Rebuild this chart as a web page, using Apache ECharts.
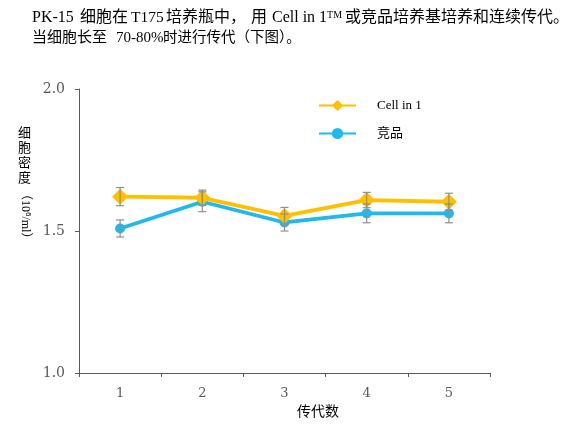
<!DOCTYPE html>
<html>
<head>
<meta charset="utf-8">
<script src="https://cdn.jsdelivr.net/npm/echarts@6/dist/echarts.min.js"></script>
<style>
html,body{margin:0;padding:0;background:#fff;}
#c{width:571px;height:431px;}
</style>
</head>
<body>
<div id="c"></div>
<script>
var categories = ['1', '2', '3', '4', '5'];
var cellIn1 = [1.621, 1.617, 1.553, 1.609, 1.603];
var cellIn1Err = [0.032, 0.027, 0.030, 0.027, 0.030];
var competitor = [1.509, 1.603, 1.530, 1.562, 1.562];
var competitorErr = [0.030, 0.035, 0.030, 0.033, 0.033];
var yTicks = [1.0, 1.5, 2.0];

var chart = echarts.init(document.getElementById('c'));

function errData(vals, errs) {
  return vals.map(function (v, i) { return [i, v - errs[i], v + errs[i]]; });
}
function renderErr(params, api) {
  var x = api.value(0);
  var lo = api.coord([x, api.value(1)]);
  var hi = api.coord([x, api.value(2)]);
  var cap = 4;
  var st = { stroke: '#8f8f8f', lineWidth: 1.2 };
  return {
    type: 'group',
    children: [
      { type: 'line', shape: { x1: lo[0], y1: lo[1], x2: hi[0], y2: hi[1] }, style: st },
      { type: 'line', shape: { x1: lo[0] - cap, y1: lo[1], x2: lo[0] + cap, y2: lo[1] }, style: st },
      { type: 'line', shape: { x1: hi[0] - cap, y1: hi[1], x2: hi[0] + cap, y2: hi[1] }, style: st }
    ]
  };
}

var serif = '"Liberation Serif", "Noto Sans CJK SC", serif';
var axisColor = '#5f5a55';

function seg(text, x, y, size, rich) {
  var s = { text: text, font: size + 'px ' + serif, fill: '#000' };
  if (rich) s.rich = rich;
  return { type: 'text', left: x, top: y, style: s };
}
var supRich = { sup: { fontSize: 10, verticalAlign: 'top', padding: [0, 0, 6, 0], fontFamily: serif } };

chart.setOption({
  animation: false,
  grid: { left: 79, right: 81, top: 89, bottom: 58 },
  legend: {
    orient: 'vertical',
    left: 313,
    top: 94,
    itemWidth: 37,
    itemHeight: 14,
    itemGap: 15,
    data: ['Cell in 1', '竞品'],
    textStyle: { fontFamily: serif, fontSize: 13, color: '#000', padding: [0, 0, 0, 16] }
  },
  xAxis: {
    type: 'category',
    data: categories,
    boundaryGap: true,
    axisLine: { lineStyle: { color: axisColor, width: 1 } },
    axisTick: { show: true, length: 4, alignWithLabel: false, lineStyle: { color: axisColor } },
    axisLabel: { color: '#595959', fontFamily: '"DejaVu Serif", serif', fontSize: 13, margin: 14 },
    splitLine: { show: false }
  },
  yAxis: {
    type: 'value',
    min: yTicks[0],
    max: yTicks[yTicks.length - 1],
    interval: 0.5,
    axisLine: { show: true, lineStyle: { color: axisColor, width: 1 } },
    axisTick: { show: true, length: 4, lineStyle: { color: axisColor } },
    axisLabel: {
      color: '#595959', fontFamily: '"DejaVu Serif", serif', fontSize: 14, margin: 14,
      formatter: function (v) { return v.toFixed(1); }
    },
    splitLine: { show: false }
  },
  series: [
    {
      name: 'Cell in 1', type: 'line', data: cellIn1,
      symbol: 'diamond', symbolSize: 16,
      lineStyle: { color: '#FFC000', width: 3.8 },
      itemStyle: { color: '#FFC000' },
      z: 3
    },
    {
      name: '竞品', type: 'line', data: competitor,
      symbol: 'circle', symbolSize: 10,
      lineStyle: { color: '#1FB8EF', width: 3.8 },
      itemStyle: { color: '#1FB8EF' },
      z: 2
    },
    { type: 'custom', renderItem: renderErr, data: errData(cellIn1, cellIn1Err), z: 4, silent: true },
    { type: 'custom', renderItem: renderErr, data: errData(competitor, competitorErr), z: 4, silent: true }
  ],
  graphic: [
    seg('PK-15', 32, 10, 16),
    seg('细胞在', 80, 10, 16),
    seg('T175', 131, 10, 15.5),
    seg('培养瓶中，', 166, 10, 16),
    seg('用', 251, 10, 16),
    seg('Cell in 1{sup|TM}', 272, 10, 16, supRich),
    seg('或竞品培养基培养和连续传代。', 345, 10, 16),
    seg('当细胞长至', 32, 31, 15),
    seg('70-80%', 116, 31, 15),
    seg('时进行传代（下图）。', 163, 31, 14.5),
    { type: 'text', left: 18, top: 125, style: { text: '细\n胞\n密\n度', font: '13px "Noto Sans CJK SC"', fill: '#000', lineHeight: 15 } },
    {
      type: 'text', x: 19, y: 188, rotation: -Math.PI / 2,
      style: { text: '（10{s|6}/ml）', font: '12px ' + serif, fill: '#000', textVerticalAlign: 'bottom',
        rich: { s: { fontSize: 8, verticalAlign: 'top', padding: [0, 0, 5, 0] } } }
    },
    { type: 'text', left: 297, top: 404, style: { text: '传代数', font: '14px "Noto Sans CJK SC"', fill: '#000' } }
  ]
});
</script>
</body>
</html>
